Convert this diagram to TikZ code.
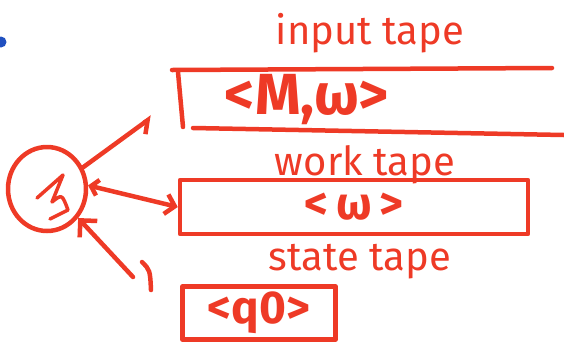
\documentclass[tikz,border=0pt]{standalone}
\usepackage{fontspec}
\setmainfont{Fira Sans}
\usetikzlibrary{arrows.meta,shapes.geometric}
\definecolor{ink}{HTML}{EE3A26}
\definecolor{dotblue}{HTML}{2050C0}
\tikzset{
  pen/.style={draw=ink, line width=4.5pt, line cap=round, line join=round},
  lbl/.style={text=ink, inner sep=0pt, font=\fontsize{40}{42}\selectfont},
  cell/.style={text=ink, inner sep=0pt, font=\fontsize{46}{48}\selectfont\bfseries},
}
\begin{document}
\begin{tikzpicture}[x=1pt, y=-1pt]
  \useasboundingbox (0,0) rectangle (564,349);
  \fill[dotblue] (1,42) circle (5.5);

  % control
  \node[pen, ellipse, minimum width=78pt, minimum height=84pt, inner sep=0pt] (ctrl) at (47,189) {};
  \draw[pen, line width=3.5pt] (37,198) -- (63,175) -- (52,202) .. controls (62,194) .. (68,210) -- (50,219);

  % input tape, open on the right
  \draw[pen] (172,70) -- (552,68);
  \draw[pen] (178,72) -- (183,127);
  \draw[pen] (193,128) -- (564,135);
  \node[lbl] (inlbl) at (370,33) {input tape};
  \node[cell, font=\fontsize{58}{60}\selectfont\bfseries] (input) at (307,100) {<M,ω>};

  % work tape
  \node[lbl] (worklbl) at (365,165) {work tape};
  \node[cell, pen, minimum width=348pt, minimum height=54pt] (work) at (354,207) {<\,ω\,>};

  % state tape
  \node[lbl] (statelbl) at (360,262) {state tape};
  \node[cell, pen, minimum width=153pt, minimum height=53pt] (state) at (259,313) {<q0>};

  % heads
  \coordinate (inhead) at (152,117);
  \coordinate (sthead) at (133,277);
  \draw[pen, -{Straight Barb[right, length=10pt, width=20pt]}] (ctrl.31) -- (inhead);
  \draw[pen, {Straight Barb[length=7pt, width=16pt]}-{Straight Barb[length=9pt, width=20pt]}] (ctrl.5) -- (work.west);
  \draw[pen, -{Straight Barb[length=12pt, width=24pt]}] (sthead) -- (ctrl.-43);
  \draw[pen] (142,262) .. controls (150,270) .. (151,290);
\end{tikzpicture}
\end{document}
